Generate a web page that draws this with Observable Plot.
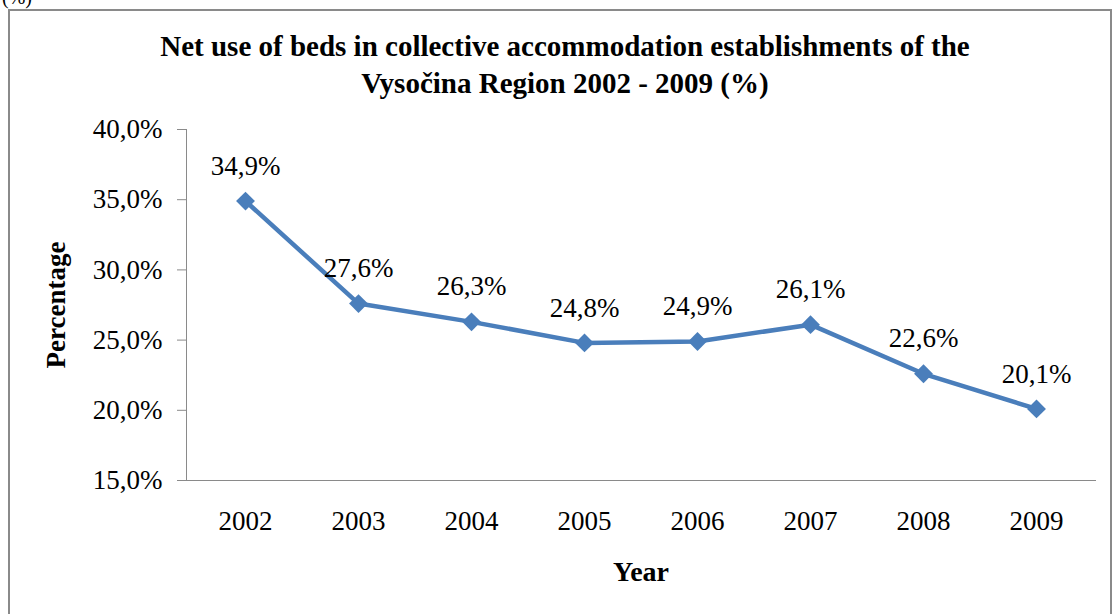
<!DOCTYPE html>
<html>
<head>
<meta charset="utf-8">
<script src="https://cdn.jsdelivr.net/npm/d3@7"></script>
<script src="https://cdn.jsdelivr.net/npm/@observablehq/plot@0.6"></script>
<style>
  html, body { margin: 0; padding: 0; background: #fff; overflow: hidden; }
  #root { position: relative; width: 1115px; height: 614px; font-family: "Liberation Serif", "Times New Roman", serif; }
  #frame { position: absolute; left: 8px; top: 9px; width: 1104px; height: 640px; border: 2px solid #8a8a8a; box-sizing: border-box; }
  #pct { position: absolute; left: 2px; top: -14px; font-size: 20px; color: #000; }
  #title { position: absolute; left: 0; width: 1130px; top: 28px; text-align: center; font-weight: bold; font-size: 29px; line-height: 37px; color: #000; }
  #chart { position: absolute; left: 0; top: 0; }
  #chart svg, #chart svg text { font-family: "Liberation Serif", "Times New Roman", serif !important; }
</style>
</head>
<body>
<div id="root">
  <div id="pct">(%)</div>
  <div id="frame"></div>
  <div id="chart"></div>
  <div id="title">Net use of beds in collective accommodation establishments of the<br>Vysočina Region 2002 - 2009 (%)</div>
</div>
<script>
const years = ["2002", "2003", "2004", "2005", "2006", "2007", "2008", "2009"];
const values = [34.9, 27.6, 26.3, 24.8, 24.9, 26.1, 22.6, 20.1];
const yTicks = [15, 20, 25, 30, 35, 40];

const data = years.map((y, i) => ({year: y, value: values[i]}));
const fmt = v => v.toFixed(1).replace(".", ",") + "%";

const chart = Plot.plot({
  width: 1115,
  height: 614,
  marginLeft: 186,
  marginRight: 20,
  marginTop: 129,
  marginBottom: 134,
  style: {fontFamily: "Liberation Serif, serif", fontSize: "27px", color: "#000", background: "transparent"},
  x: {type: "point", domain: years, label: null},
  y: {domain: [15, 40], label: null},
  marks: [
    Plot.axisY({ticks: yTicks, tickFormat: fmt, tickSize: 9, tickPadding: 15, stroke: "#8a8a8a", fill: "#000", fontSize: 27, label: null}),
    Plot.axisX({tickSize: 0, tickPadding: 30, fill: "#000", fontSize: 27, label: null}),
    Plot.frame({anchor: "left", stroke: "#8a8a8a"}),
    Plot.frame({anchor: "bottom", stroke: "#8a8a8a"}),
    Plot.line(data, {x: "year", y: "value", stroke: "#4A7EBB", strokeWidth: 4.5}),
    Plot.dot(data, {x: "year", y: "value", symbol: "diamond2", r: 8.5, fill: "#4A7EBB", stroke: "none"}),
    Plot.text(data, {x: "year", y: "value", text: d => fmt(d.value), dy: -35, fontSize: 27, fill: "#000"}),
    Plot.text(["Year"], {frameAnchor: "bottom", dy: 100, fontSize: 28, fontWeight: "bold", fill: "#000"}),
    Plot.text(["Percentage"], {frameAnchor: "left", textAnchor: "middle", dx: -130, rotate: -90, fontSize: 27, fontWeight: "bold", fill: "#000"})
  ]
});
document.getElementById("chart").appendChild(chart);
</script>
</body>
</html>
